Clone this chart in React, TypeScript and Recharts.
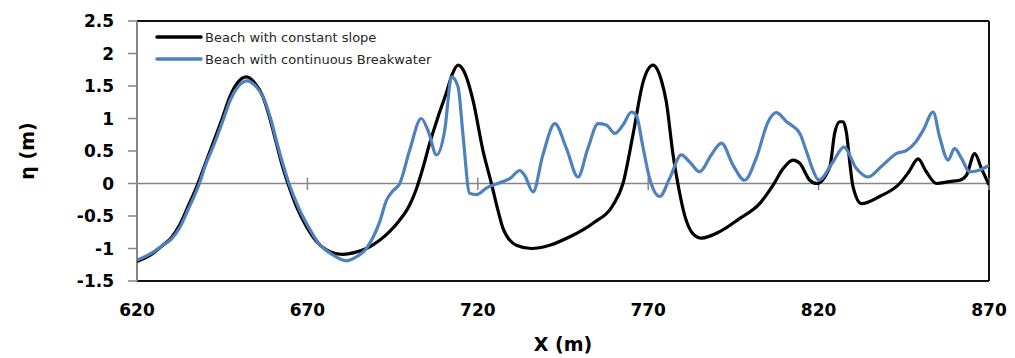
import React from "react";
import { LineChart, Line, XAxis, YAxis, ReferenceLine } from "recharts";

// X (m) positions and water surface η (m)
const slopeX = [
  620, 624, 627.6, 630, 632.5, 635, 637.9, 640, 642.3, 645, 647.2, 649.5, 652.1,
  654.5, 657, 659, 660.9, 662.5, 664.3, 667, 669.7, 672.5, 675.6, 680.4, 684,
  687.3, 691, 694.1, 697, 700, 702, 703.9, 706, 708.3, 710.8, 712.5, 714.2,
  716, 718.6, 721.5, 724, 725.9, 727.4, 731.3, 735.7, 741.1, 747, 753.8, 759.7,
  762.6, 765.5, 768.5, 771.4, 773.9, 775.3, 777.3, 778.7, 780.7, 783.1, 785.6,
  791, 796.8, 802.7, 806.6, 809.6, 812.5, 814.5, 817.4, 819.4, 823.3, 824.7,
  826.2, 827.2, 828.2, 829.2, 830.1, 832.6, 837.9, 843.8, 846.5, 849.2, 851.6,
  854.6, 858.5, 861.4, 863.4, 865.8, 867.8, 870,
];
const slopeEta = [
  -1.2, -1.1, -0.95, -0.84, -0.64, -0.35, 0, 0.3, 0.62, 1.0, 1.33, 1.55, 1.64,
  1.55, 1.33, 1.0, 0.62, 0.3, 0, -0.38, -0.66, -0.88, -1.02, -1.09, -1.06,
  -1.0, -0.88, -0.74, -0.57, -0.33, -0.08, 0.24, 0.64, 1.02, 1.4, 1.68, 1.82,
  1.72, 1.28, 0.51, 0, -0.41, -0.69, -0.95, -1.0, -0.95, -0.82, -0.61, -0.33,
  0, 0.74, 1.56, 1.82, 1.58, 1.26, 0.44, 0, -0.49, -0.77, -0.84, -0.74, -0.54,
  -0.31, -0.03, 0.23, 0.36, 0.31, 0.05, 0, 0.26, 0.77, 0.95, 0.95, 0.77, 0.3,
  -0.05, -0.31, -0.2, 0, 0.18, 0.38, 0.18, 0, 0.03, 0.05, 0.13, 0.46, 0.23,
  -0.02,
];

const breakwaterX = [
  620, 624, 627.6, 630, 632.5, 635, 638.3, 640, 642.6, 645.3, 647.5, 649.8,
  652.3, 654.8, 657.3, 659.3, 661.2, 662.8, 664.6, 667.3, 670, 673, 677.5,
  681.4, 684, 687.3, 691.2, 693.2, 695, 697.1, 700, 703.4, 705.5, 707.9, 710.3,
  712.3, 714.2, 715.7, 717.6, 719.6, 722.5, 727.4, 729.5, 732.3, 733.8, 736.2,
  739.1, 742.6, 746, 749.4, 752.3, 755.3, 757.7, 760.2, 762.6, 765.1, 766.5,
  768.5, 770.4, 773.4, 776.3, 779.7, 782.2, 785.1, 788.5, 791.5, 794.9, 798.3,
  801.7, 805.2, 807.6, 810.6, 814.5, 816.4, 818.4, 820, 824.2, 827.4, 831.1,
  834.5, 838.4, 842.8, 845.8, 848.5, 850.7, 853.6, 855.5, 858, 859.9, 861.9,
  864.3, 866.8, 870,
];
const breakwaterEta = [
  -1.18, -1.08, -0.95, -0.86, -0.68, -0.4, 0, 0.27, 0.6, 0.98, 1.3, 1.5, 1.58,
  1.5, 1.3, 0.98, 0.6, 0.3, 0, -0.36, -0.64, -0.9, -1.1, -1.19, -1.14, -1.0,
  -0.59, -0.26, -0.12, 0, 0.51, 1.0, 0.8, 0.44, 0.82, 1.64, 1.49, 0.72, -0.15,
  -0.17, -0.07, 0.03, 0.08, 0.2, 0.12, -0.13, 0.44, 0.92, 0.54, 0.1, 0.54,
  0.92, 0.9, 0.77, 0.9, 1.1, 1.05, 0.55, 0.08, -0.2, 0.08, 0.44, 0.33, 0.18,
  0.44, 0.62, 0.28, 0.05, 0.39, 0.95, 1.09, 0.95, 0.77, 0.5, 0.2, 0.05, 0.33,
  0.56, 0.23, 0.1, 0.26, 0.46, 0.51, 0.64, 0.82, 1.1, 0.72, 0.36, 0.54, 0.39,
  0.18, 0.2, 0.28,
];

const xTicks = [620, 670, 720, 770, 820, 870];
const yTicks = [-1.5, -1, -0.5, 0, 0.5, 1, 1.5, 2, 2.5];
const xDomain = [620, 870];
const yDomain = [-1.5, 2.5];

const slopeData = slopeX.map((x, i) => ({ x, eta: slopeEta[i] }));
const breakwaterData = breakwaterX.map((x, i) => ({ x, eta: breakwaterEta[i] }));

const series = [
  { name: "Beach with constant slope", color: "#000", data: slopeData },
  { name: "Beach with continuous Breakwater", color: "#4F81BD", data: breakwaterData },
];

const FONT = "'DejaVu Sans', Verdana, sans-serif";
const tickStyle = { fontSize: 17, fontWeight: 700, fill: "#000", fontFamily: FONT };
const FRAME = "#111";

export default function App() {
  return (
    <div
      style={{
        position: "absolute",
        left: 0,
        top: 0,
        width: 1015,
        height: 358,
        background: "#fff",
      }}
    >
      <LineChart
        width={1015}
        height={358}
        margin={{ top: 21, right: 26, left: 0, bottom: 0 }}
      >
        <XAxis
          type="number"
          dataKey="x"
          domain={xDomain}
          ticks={xTicks}
          allowDataOverflow
          axisLine={false}
          tickLine={false}
          tickSize={0}
          tickMargin={23}
          height={77}
          tick={tickStyle}
          label={{
            content: ({ viewBox }: any) => (
              <text
                x={viewBox.x + viewBox.width / 2}
                y={viewBox.y + 70}
                textAnchor="middle"
                style={{ fontSize: 19, fontWeight: 700, fontFamily: FONT }}
                fill="#000"
              >
                X (m)
              </text>
            ),
          }}
        />
        <YAxis
          type="number"
          domain={yDomain}
          ticks={yTicks}
          allowDataOverflow
          width={137}
          axisLine={false}
          tickLine={{ stroke: "#868686", strokeWidth: 1.5 }}
          tickSize={9}
          tickMargin={14}
          tick={tickStyle}
          label={{
            content: ({ viewBox }: any) => {
              const cx = viewBox.x + 27;
              const cy = viewBox.y + viewBox.height / 2;
              return (
                <text
                  x={cx}
                  y={cy}
                  transform={`rotate(-90 ${cx} ${cy})`}
                  textAnchor="middle"
                  dominantBaseline="central"
                  style={{ fontSize: 19, fontWeight: 700, fontFamily: FONT }}
                  fill="#000"
                >
                  η (m)
                </text>
              );
            },
          }}
        />
        {/* plot frame: top, bottom, right in black, left value axis in grey */}
        <ReferenceLine y={2.5} stroke={FRAME} strokeWidth={2} ifOverflow="visible" />
        <ReferenceLine y={-1.5} stroke={FRAME} strokeWidth={2} ifOverflow="visible" />
        <ReferenceLine x={870} stroke={FRAME} strokeWidth={2} ifOverflow="visible" />
        <ReferenceLine x={620} stroke="#868686" strokeWidth={2} ifOverflow="visible" />
        <ReferenceLine y={0} stroke="#868686" strokeWidth={1.5} />
        {xTicks.map((t) => (
          <ReferenceLine
            key={t}
            segment={[
              { x: t, y: -0.1 },
              { x: t, y: 0.09 },
            ]}
            stroke="#868686"
            strokeWidth={1.5}
            ifOverflow="visible"
          />
        ))}
        {series.map((s) => (
          <Line
            key={s.name}
            data={s.data}
            type="monotone"
            dataKey="eta"
            name={s.name}
            stroke={s.color}
            strokeWidth={3.2}
            dot={false}
            isAnimationActive={false}
          />
        ))}
      </LineChart>
      {/* legend sits inside the plot, top left */}
      <div
        style={{
          position: "absolute",
          left: 155,
          top: 26,
          fontFamily: FONT,
          fontSize: 13,
          color: "#262626",
        }}
      >
        {series.map((s) => (
          <div
            key={s.name}
            style={{ display: "flex", alignItems: "center", height: 22 }}
          >
            <svg width={48} height={6} style={{ marginRight: 2 }}>
              <line
                x1={2}
                y1={3}
                x2={46}
                y2={3}
                stroke={s.color}
                strokeWidth={3.5}
                strokeLinecap="round"
              />
            </svg>
            <span>{s.name}</span>
          </div>
        ))}
      </div>
    </div>
  );
}
